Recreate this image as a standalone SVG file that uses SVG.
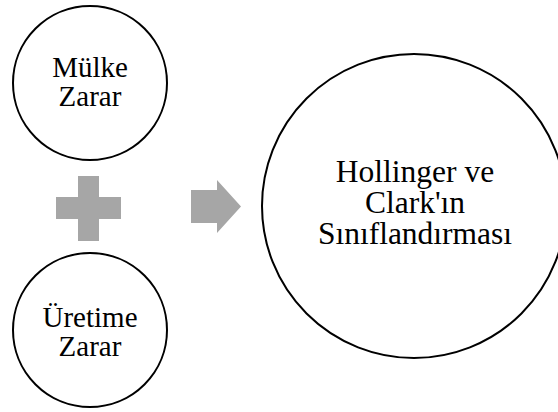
<svg xmlns="http://www.w3.org/2000/svg" width="558" height="412" viewBox="0 0 558 412">
<style>
.node circle{fill:#fff;stroke:#000;stroke-width:2}
.lbl{font-family:"Liberation Serif","Times New Roman",serif;fill:#000;text-anchor:middle}
.sym{fill:#a6a6a6}
</style>
<rect width="558" height="412" fill="#fff"/>
<g id="mulke-zarar" class="node">
<circle cx="90" cy="83" r="77"/>
<text class="lbl" font-size="29"><tspan x="90" y="77">Mülke</tspan><tspan x="90" y="106">Zarar</tspan></text>
</g>
<g id="uretime-zarar" class="node">
<circle cx="90" cy="330" r="77"/>
<text class="lbl" font-size="29"><tspan x="90" y="327">Üretime</tspan><tspan x="90" y="356">Zarar</tspan></text>
</g>
<g id="hollinger-clark" class="node">
<circle cx="414" cy="206" r="152"/>
<text class="lbl" font-size="31.5"><tspan x="415" y="182">Hollinger ve</tspan><tspan x="415" y="213">Clark'ın</tspan><tspan x="415" y="244">Sınıflandırması</tspan></text>
</g>
<g id="connectors">
<path class="sym" d="M78 176H99V197H121V219H99V241H78V219H56V197H78Z"/>
<path class="sym" d="M191 190H217V180L241 206.5L217 233V223H191Z"/>
</g>
</svg>
